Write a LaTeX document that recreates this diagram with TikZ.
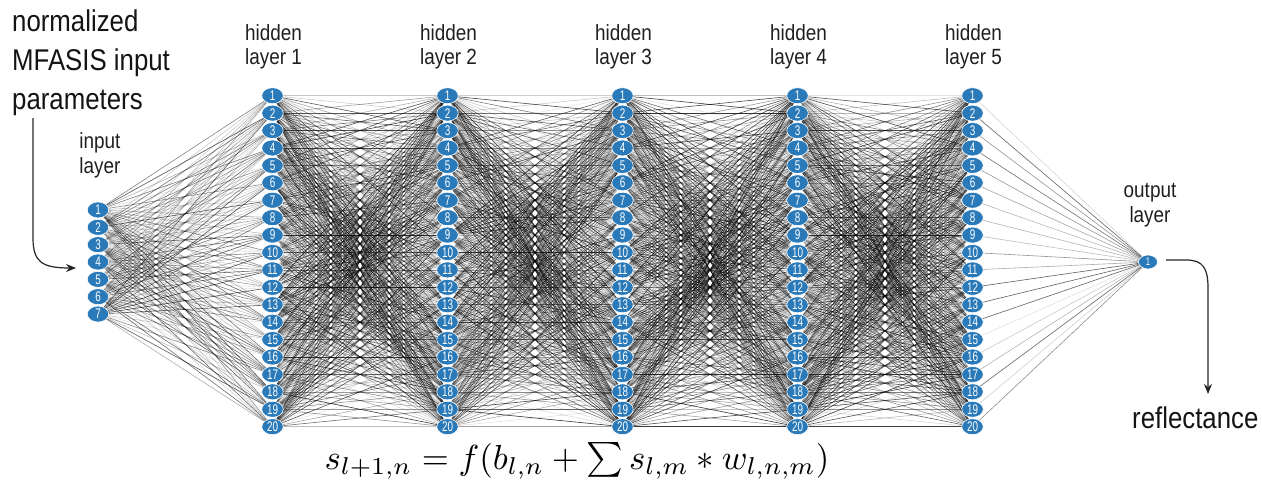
\documentclass[tikz,border=0pt]{standalone}
\usepackage[no-math]{fontspec}
\newfontfamily\labfont[FakeStretch=0.86]{Liberation Sans}
\usetikzlibrary{shapes.geometric,backgrounds,arrows.meta}
\definecolor{nodeblue}{HTML}{2A7AB9}
\newcommand\nlab[1]{\scalebox{0.82}[1]{#1}}
\begin{document}
\begin{tikzpicture}[x=1pt,y=-1pt,
  neuron/.style={ellipse, fill=nodeblue, draw=white, line width=0.6pt,
    minimum width=21.5pt, minimum height=16pt, inner sep=0pt, text=white,
    font=\labfont\fontsize{14}{14}\selectfont},
  outneuron/.style={neuron, minimum width=19pt, minimum height=14pt,
    font=\labfont\fontsize{11}{11}\selectfont},
  edge/.style={line width=0.6pt, draw=black},
  lab/.style={font=\labfont\fontsize{22}{25}\selectfont, text=black!88, inner sep=0pt},
  big/.style={font=\labfont\fontsize{30}{38}\selectfont, text=black!92, inner sep=0pt},
  flow/.style={line width=1.2pt, draw=black!85, -{Stealth[length=10pt,width=8pt]}}]
\useasboundingbox (0,0) rectangle (1262,488);
% input layer
\foreach \i in {1,...,7}
  \node[neuron] (in\i) at (98,{262+(\i-4)*17.35}) {\nlab{\i}};
% hidden layers
\foreach \l in {1,...,5}
  \foreach \i in {1,...,20}
    \node[neuron] (h\l n\i) at ({272.5+175*(\l-1)},{261.2+(\i-10.5)*17.42}) {\nlab{\i}};
% output
\node[outneuron] (out) at (1148,262) {\nlab{1}};
% connections
\begin{scope}[on background layer]
  \pgfmathsetseed{11}
  \foreach \i in {1,...,7}
    \foreach \j in {1,...,20}{
      \pgfmathsetmacro\op{0.1+0.6*rnd}
      \draw[edge, draw opacity=\op] (in\i.center) -- (h1n\j.center);
    }
  \foreach \l [evaluate=\l as \m using int(\l+1)] in {1,...,4}
    \foreach \i in {1,...,20}
      \foreach \j in {1,...,20}{
        \pgfmathsetmacro\op{0.08+0.72*rnd}
        \draw[edge, draw opacity=\op] (h\l n\i.center) -- (h\m n\j.center);
      }
  \foreach \i in {1,...,20}{
    \pgfmathsetmacro\op{0.1+0.55*rnd}
    \draw[edge, draw opacity=\op] (h5n\i.center) -- (out.center);
  }
\end{scope}
% labels
\node[lab, anchor=base] (inl1) at (100,148) {input};
\node[lab, anchor=base] (inl2) at (100,173) {layer};
\foreach \l in {1,...,5}{
  \node[lab, anchor=base] (hl\l a) at ({273.5+175*(\l-1)},40) {hidden};
  \node[lab, anchor=base] (hl\l b) at ({273.5+175*(\l-1)},64) {layer \l};
}
\node[lab, anchor=base] (outl1) at (1150,197) {output};
\node[lab, anchor=base] (outl2) at (1150,222) {layer};
\node[big, anchor=base west] (t1) at (12,31) {normalized};
\node[big, anchor=base west] (t2) at (12,70) {MFASIS input};
\node[big, anchor=base west] (t3) at (12,109) {parameters};
\node[big, anchor=base west] (refl) at (1132,428) {reflectance};
\node[anchor=base, inner sep=0pt] (formula) at (577,469)
  {\scalebox{3.48}{$s_{l+1,n}=f(b_{l,n}+\sum s_{l,m}*w_{l,n,m})$}};
% arrows
\coordinate (ainS) at (33,118);
\coordinate (ainE) at (76,268);
\draw[flow] (ainS) -- (33,238) .. controls (33,262) and (42,268) .. (ainE);
\coordinate (aoutS) at (1166,260);
\coordinate (aoutE) at (1208,394);
\draw[flow] (aoutS) -- (1186,260) .. controls (1203,260) and (1208,268) .. (1208,288) -- (aoutE);
\end{tikzpicture}
\end{document}
